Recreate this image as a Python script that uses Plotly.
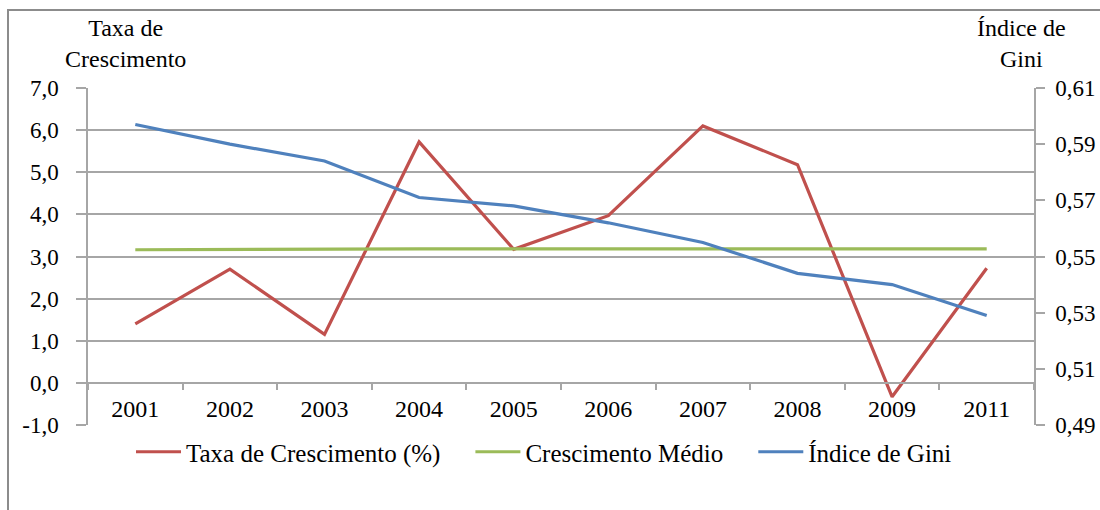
import plotly.graph_objects as go

# Categories and series
anos = ["2001", "2002", "2003", "2004", "2005", "2006", "2007", "2008", "2009", "2011"]
taxa_crescimento = [1.4, 2.7, 1.15, 5.72, 3.17, 3.97, 6.1, 5.18, -0.33, 2.72]
crescimento_medio = [3.16, 3.17, 3.18, 3.18, 3.18, 3.18, 3.18, 3.18, 3.18, 3.18]
indice_gini = [0.597, 0.590, 0.584, 0.571, 0.568, 0.562, 0.555, 0.544, 0.540, 0.529]

# Axis tick values and labels
y1_ticks = [-1, 0, 1, 2, 3, 4, 5, 6, 7]
y1_labels = ["-1,0", "0,0", "1,0", "2,0", "3,0", "4,0", "5,0", "6,0", "7,0"]
y2_ticks = [0.49, 0.51, 0.53, 0.55, 0.57, 0.59, 0.61]
y2_labels = ["0,49", "0,51", "0,53", "0,55", "0,57", "0,59", "0,61"]

W, H = 1100, 510
L, R, T, B = 88, 66, 88, 85
pw, ph = W - L - R, H - T - B


def px_x(x):
    return (x - L) / pw


def px_y(y):
    return (H - B - y) / ph


FONT = "Liberation Serif"
GRID = "#a6a6a6"
PAD = "\u00a0" * 4  # trailing space between legend entries

fig = go.Figure()
fig.add_trace(go.Scatter(x=anos, y=taxa_crescimento, name="Taxa de Crescimento (%)" + PAD,
                         mode="lines", line=dict(color="#c0504d", width=3.2)))
fig.add_trace(go.Scatter(x=anos, y=crescimento_medio, name="Crescimento Médio" + PAD,
                         mode="lines", line=dict(color="#9bbb59", width=3.2)))
fig.add_trace(go.Scatter(x=anos, y=indice_gini, name="Índice de Gini", yaxis="y2",
                         mode="lines", line=dict(color="#4f81bd", width=3.2)))

fig.update_layout(
    width=W, height=H,
    margin=dict(l=L, r=R, t=T, b=B, autoexpand=False),
    paper_bgcolor="white", plot_bgcolor="white",
    font=dict(family=FONT, color="black", size=22),
    showlegend=True,
    legend=dict(orientation="h", x=px_x(131), xanchor="left", y=px_y(452), yanchor="middle",
                font=dict(size=25, family=FONT), bgcolor="rgba(0,0,0,0)",
                itemwidth=45, traceorder="normal"),
    xaxis=dict(type="category", range=[-0.5, 9.5], anchor="free", position=0.125,
               showgrid=False, showline=True, linecolor=GRID, linewidth=1.5,
               ticks="outside", ticklen=6, tickcolor=GRID, tickwidth=1.5,
               tickson="boundaries", tickfont=dict(size=24, family=FONT),
               ticklabelstandoff=5, zeroline=False, automargin=False),
    yaxis=dict(range=[-1, 7], tickvals=y1_ticks, ticktext=y1_labels,
               showgrid=True, gridcolor=GRID, gridwidth=1.5, zeroline=False,
               showline=True, linecolor=GRID, linewidth=1.5,
               ticks="outside", ticklen=10, tickcolor=GRID, tickwidth=1.5,
               tickfont=dict(size=23, family=FONT), ticklabelstandoff=13,
               automargin=False),
    yaxis2=dict(range=[0.49, 0.61], tickvals=y2_ticks, ticktext=y2_labels,
                overlaying="y", side="right", showgrid=False, zeroline=False,
                showline=True, linecolor=GRID, linewidth=1.5,
                ticks="outside", ticklen=9, tickcolor=GRID, tickwidth=1.5,
                tickfont=dict(size=23, family=FONT), ticklabelstandoff=6,
                automargin=False),
    annotations=[
        dict(text="Taxa de<br>Crescimento", xref="paper", yref="paper",
             x=px_x(125), y=px_y(44), xanchor="center", yanchor="middle",
             showarrow=False, font=dict(size=24, family=FONT)),
        dict(text="Índice de<br>Gini", xref="paper", yref="paper",
             x=px_x(1021), y=px_y(44), xanchor="center", yanchor="middle",
             showarrow=False, font=dict(size=24, family=FONT)),
    ],
    shapes=[
        dict(type="rect", xref="paper", yref="paper",
             x0=px_x(8), x1=px_x(1110), y0=px_y(520), y1=px_y(10),
             line=dict(color="#8c8c8c", width=2), layer="below"),
    ],
)

fig.write_html("out.html")
